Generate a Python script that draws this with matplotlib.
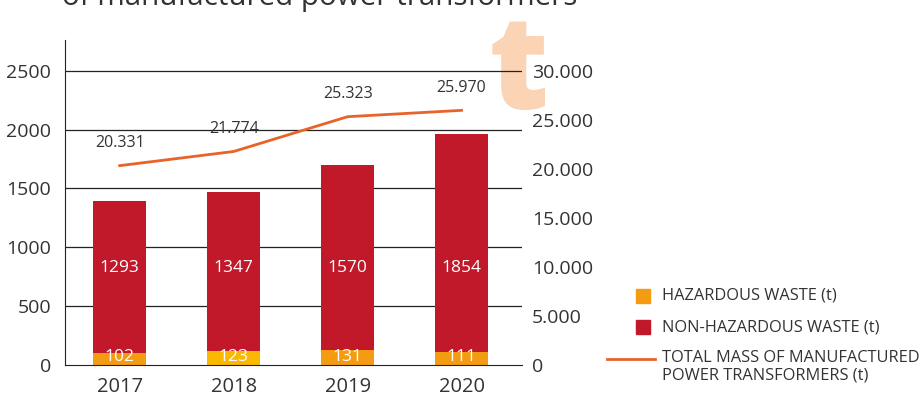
import matplotlib.pyplot as plt
from matplotlib.lines import Line2D
from matplotlib.patches import Rectangle

plt.rcParams["font.family"] = ["Open Sans", "DejaVu Sans"]

years = ["2017", "2018", "2019", "2020"]
hazardous = [102, 123, 131, 111]
non_hazardous = [1293, 1347, 1570, 1854]
total_mass = [20331, 21774, 25323, 25970]

RED = "#C1182A"
ORANGE = "#F39C12"
YELLOW = "#FBB800"
LINE = "#E8632A"
TEXT = "#333333"

W, H = 921, 397
fig = plt.figure(figsize=(W / 100, H / 100), dpi=100)
ax = fig.add_axes([65 / W, (H - 365) / H, (522 - 65) / W, (365 - 40) / H])
ax2 = ax.twinx()

x = list(range(len(years)))
haz_colors = [ORANGE, YELLOW, ORANGE, ORANGE]

# decorative letter behind everything
fig.text(519 / W, 1 - 109 / H, "t", fontsize=94, fontweight="heavy",
         color="#FBD3B5", ha="center", va="baseline", zorder=0)
fig.text(62 / W, 1 - 5 / H, "of manufactured power transformers",
         fontsize=21.3, color=TEXT, ha="left", va="baseline")

ax.set_zorder(1)
ax.patch.set_visible(False)
ax2.set_zorder(2)

for yv in [500, 1000, 1500, 2000, 2500]:
    ax.axhline(yv, color="#222222", lw=0.9, zorder=1)

ax.bar(x, hazardous, width=0.46, color=haz_colors, zorder=2)
ax.bar(x, non_hazardous, width=0.46, bottom=hazardous, color=RED, zorder=2)

for i in x:
    ax.text(i, 68, str(hazardous[i]), color="white",
            fontsize=12.5, ha="center", va="center", zorder=3)
    ax.text(i, 825, str(non_hazardous[i]),
            color="white", fontsize=12.5, ha="center", va="center", zorder=3)

ax.set_xlim(-0.48, 3.53)
ax.set_ylim(0, 2762)
ax.set_yticks([0, 500, 1000, 1500, 2000, 2500])
ax.set_xticks(x)
ax.set_xticklabels(years)
ax.tick_params(axis="y", length=0, pad=10, labelsize=14, labelcolor=TEXT)
ax.tick_params(axis="x", length=0, pad=9, labelsize=14.5, labelcolor=TEXT)
for s in ["top", "right"]:
    ax.spines[s].set_visible(False)
ax.spines["left"].set_color("#222222")
ax.spines["bottom"].set_color("#222222")

ax2.plot(x, total_mass, color=LINE, lw=2)
for i in x:
    ax2.annotate(f"{total_mass[i]:,}".replace(",", "."), (i, total_mass[i]),
                 xytext=(0, 16), textcoords="offset points", ha="center",
                 va="center", fontsize=11.5, color=TEXT)
ax2.set_ylim(0, 2762 * 12)
ax2.set_yticks([0, 5000, 10000, 15000, 20000, 25000, 30000])
ax2.set_yticklabels(["0", "5.000", "10.000", "15.000", "20.000", "25.000", "30.000"])
ax2.tick_params(axis="y", length=0, pad=7, labelsize=14, labelcolor=TEXT)
for s in ax2.spines.values():
    s.set_visible(False)

# legend
fy = lambda py: 1 - py / H
fig.add_artist(Rectangle((636 / W, fy(303)), 14 / W, 14 / H, color=ORANGE,
                         transform=fig.transFigure))
fig.add_artist(Rectangle((636 / W, fy(334)), 14 / W, 14 / H, color=RED,
                         transform=fig.transFigure))
fig.add_artist(Line2D([607 / W, 655 / W], [fy(359), fy(359)], color=LINE, lw=2,
                      transform=fig.transFigure))
leg_kw = dict(fontsize=11.8, color=TEXT, ha="left")
fig.text(662 / W, fy(296), "HAZARDOUS WASTE (t)", va="center", **leg_kw)
fig.text(662 / W, fy(327), "NON-HAZARDOUS WASTE (t)", va="center", **leg_kw)
fig.text(662 / W, fy(350), "TOTAL MASS OF MANUFACTURED\nPOWER TRANSFORMERS (t)",
         va="top", linespacing=1.15, **leg_kw)

fig.savefig("out.png", dpi=100)
